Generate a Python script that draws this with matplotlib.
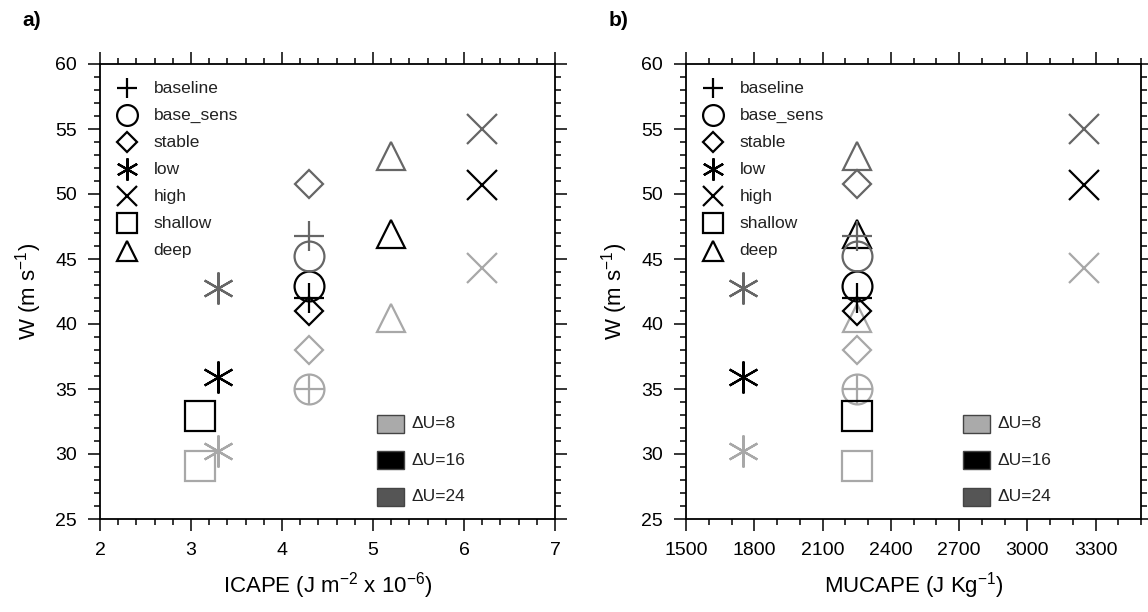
import numpy as np
import matplotlib
matplotlib.use("Agg")
import matplotlib.pyplot as plt
from matplotlib.ticker import MultipleLocator
from matplotlib.patches import Rectangle

plt.rcParams['font.family'] = ['Liberation Sans', 'DejaVu Sans']
plt.rcParams['mathtext.fontset'] = 'custom'
plt.rcParams['mathtext.rm'] = 'Liberation Sans'
plt.rcParams['mathtext.it'] = 'Liberation Sans:italic'
plt.rcParams['mathtext.bf'] = 'Liberation Sans:bold'
plt.rcParams['mathtext.default'] = 'regular'

# experiments and their marker symbols
cases = ['baseline', 'base_sens', 'stable', 'low', 'high', 'shallow', 'deep']
symbols = ['+', 'o', 'D', (6, 2, 0), 'x', 's', '^']

# W (m s-1) for each wind-shear set
w_du8 = [35.0, 35.0, 38.0, 30.2, 44.3, 29.1, 40.5]
w_du16 = [42.0, 42.9, 41.0, 35.9, 50.7, 32.9, 46.9]
w_du24 = [46.8, 45.2, 50.8, 42.8, 55.0, np.nan, 52.9]

# x values
icape = [4.3, 4.3, 4.3, 3.3, 6.2, 3.1, 5.2]
mucape = [2250, 2250, 2250, 1750, 3250, 2250, 2250]

shear_labels = ['\u0394U=8', '\u0394U=16', '\u0394U=24']
shear_colors = ['#a8a8a8', '#000000', '#666666']
box_colors = ['#aaaaaa', '#000000', '#555555']


def marker_size(sym, big=True):
    if sym == 'D':
        return 14.3 if big else 10
    if sym == (6, 2, 0):
        return 23 if big else 16
    if sym == '^':
        return 20.5 if big else 14.5
    return 21.5 if big else 15


def draw_panel(ax, xvals, xlabel, xlim, xmajor, xminor, tag):
    for wv, col in zip([w_du8, w_du16, w_du24], shear_colors):
        for x, y, sym in zip(xvals, wv, symbols):
            if np.isnan(y):
                continue
            ax.plot(x, y, linestyle='none', marker=sym, ms=marker_size(sym),
                    mfc='none', mec=col, mew=1.6, zorder=3)

    ax.set_xlim(*xlim)
    ax.set_ylim(25, 60)
    ax.xaxis.set_major_locator(MultipleLocator(xmajor))
    ax.xaxis.set_minor_locator(MultipleLocator(xminor))
    ax.yaxis.set_major_locator(MultipleLocator(5))
    ax.yaxis.set_minor_locator(MultipleLocator(1))
    ax.tick_params(which='both', direction='out', top=True, right=True,
                   width=1.1, labelsize=14)
    ax.tick_params(which='major', length=8.5, pad=8)
    ax.tick_params(which='minor', length=4)
    for sp in ax.spines.values():
        sp.set_linewidth(1.3)

    ax.set_xlabel(xlabel, fontsize=16, labelpad=8)
    ax.set_ylabel('W (m s$^{-1}$)', fontsize=16, labelpad=8)

    # symbol legend
    for i, (name, sym) in enumerate(zip(cases, symbols)):
        yy = 0.947 - i * 0.0595
        ax.plot(0.06, yy, transform=ax.transAxes, linestyle='none', marker=sym,
                ms=marker_size(sym, big=False), mfc='none', mec='black', mew=1.6,
                clip_on=False)
        ax.text(0.118, yy, name, transform=ax.transAxes, fontsize=12.5,
                va='center', ha='left', color='#222222')

    # shear legend
    for i, (lab, col) in enumerate(zip(shear_labels, box_colors)):
        yy = 0.209 - i * 0.08
        ax.add_patch(Rectangle((0.609, yy - 0.02), 0.06, 0.04, transform=ax.transAxes,
                               facecolor=col, edgecolor='#444444', lw=1.0))
        ax.text(0.685, yy, lab, transform=ax.transAxes, fontsize=12.5,
                va='center', ha='left', color='#222222')

    ax.text(-0.17, 1.095, tag, transform=ax.transAxes, fontsize=15,
            fontweight='bold', va='center', ha='left')


fig = plt.figure(figsize=(11.48, 6.12), dpi=100)
ax1 = fig.add_axes([100 / 1148, 93 / 612, 455 / 1148, 455 / 612])
ax2 = fig.add_axes([686 / 1148, 93 / 612, 455 / 1148, 455 / 612])

draw_panel(ax1, icape, 'ICAPE (J m$^{-2}$ x 10$^{-6}$)', (2, 7), 1, 0.2, 'a)')
draw_panel(ax2, mucape, 'MUCAPE (J Kg$^{-1}$)', (1500, 3500), 300, 100, 'b)')

fig.savefig('out.png', dpi=100)
